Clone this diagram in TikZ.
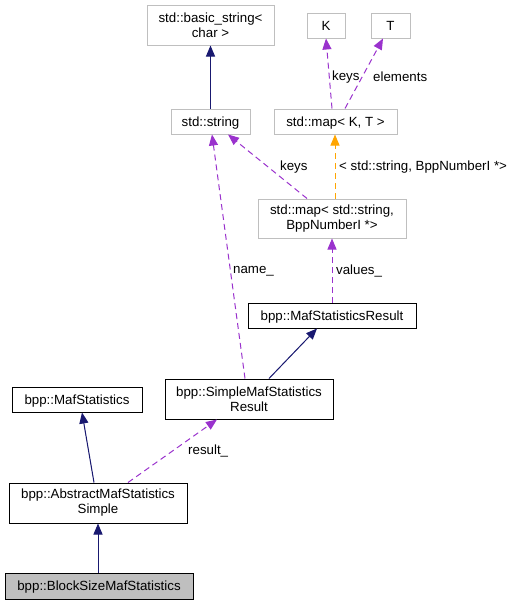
\documentclass[tikz,border=0pt]{standalone}
\usepackage{fontspec}
\setmainfont{Liberation Sans}
\usetikzlibrary{arrows.meta}
\definecolor{navy}{HTML}{191970}
\definecolor{purp}{HTML}{9A32CD}
\definecolor{orng}{HTML}{FFA500}
\definecolor{lgray}{HTML}{BFBFBF}
\tikzset{
  box/.style={draw, line width=1pt, fill=white, inner sep=0pt, align=center,
    font=\fontsize{13.3}{15}\selectfont},
  graybox/.style={box, draw=lgray},
  blackbox/.style={box, draw=black},
  oneline/.style={text height=12pt, text depth=3pt},
  inherit/.style={draw=navy, line width=1pt, -{Triangle[length=11pt,width=9pt]}, fill=navy},
  usage/.style={draw=purp, line width=1pt, dash pattern=on 6pt off 4pt, -{Triangle[length=11pt,width=9pt,fill=purp]}},
  templ/.style={draw=orng, line width=1pt, dash pattern=on 6pt off 4pt, -{Triangle[length=11pt,width=9pt,fill=orng]}},
  lbl/.style={inner sep=0pt, font=\fontsize{13.3}{15}\selectfont}
}
\begin{document}
\begin{tikzpicture}[x=1pt,y=-1pt]
\useasboundingbox (0,0) rectangle (513,605);
% nodes
\node[graybox, minimum width=127pt, minimum height=40pt] (bs) at (210.5,25) {std::basic\_string<\\char >};
\node[graybox, oneline, minimum width=38pt, minimum height=25pt] (K) at (326,25.5) {K};
\node[graybox, oneline, minimum width=39pt, minimum height=25pt] (T) at (390.5,25.5) {T};
\node[graybox, oneline, minimum width=79pt, minimum height=25pt] (str) at (210.5,121.5) {std::string};
\node[graybox, oneline, minimum width=123pt, minimum height=25pt] (mapKT) at (335.5,121.5) {std::map< K, T >};
\node[graybox, minimum width=148pt, minimum height=39pt] (mapSB) at (332,218.5) {std::map< std::string,\\BppNumberI *>};
\node[blackbox, oneline, minimum width=168pt, minimum height=25pt] (msr) at (332,315.5) {bpp::MafStatisticsResult};
\node[blackbox, oneline, minimum width=130pt, minimum height=25pt] (ms) at (77,399.5) {bpp::MafStatistics};
\node[blackbox, minimum width=168pt, minimum height=40pt] (smsr) at (249,399) {bpp::SimpleMafStatistics\\Result};
\node[blackbox, minimum width=178pt, minimum height=40pt] (amss) at (98,503) {bpp::AbstractMafStatistics\\Simple};
\node[blackbox, oneline, fill=lgray, minimum width=188pt, minimum height=26pt] (bsms) at (99,586) {bpp::BlockSizeMafStatistics};
% edges
\draw[inherit] (str.north) -- (bs.south);
\draw[usage] ([xshift=-3.5pt]mapKT.north) -- (K.south);
\draw[usage] ([xshift=9.5pt]mapKT.north) -- ([xshift=-7.5pt]T.south);
\draw[usage] ([xshift=-25pt]mapSB.north) -- ([xshift=17.5pt]str.south);
\draw[templ] ([xshift=3pt]mapSB.north) -- ([xshift=-0.5pt]mapKT.south);
\draw[usage] (msr.north) -- (mapSB.south);
\draw[usage] ([xshift=-4pt]smsr.north) -- ([xshift=1.5pt]str.south);
\draw[inherit] ([xshift=20pt]smsr.north) -- ([xshift=-15pt]msr.south);
\draw[inherit] ([xshift=-4pt]amss.north) -- ([xshift=5pt]ms.south);
\draw[usage] ([xshift=30pt]amss.north) -- ([xshift=-32pt]smsr.south);
\draw[inherit] ([xshift=-1pt]bsms.north) -- (amss.south);
% labels
\node[lbl, anchor=west] (l1) at (332,77) {keys};
\node[lbl, anchor=west] (l2) at (373,77) {elements};
\node[lbl, anchor=west] (l3) at (280,167) {keys};
\node[lbl, anchor=west] (l4) at (339,167) {< std::string, BppNumberI *>};
\node[lbl, anchor=west] (l5) at (336,271) {values\_};
\node[lbl, anchor=west] (l6) at (233,271) {name\_};
\node[lbl, anchor=west] (l7) at (188,451) {result\_};
\end{tikzpicture}
\end{document}
